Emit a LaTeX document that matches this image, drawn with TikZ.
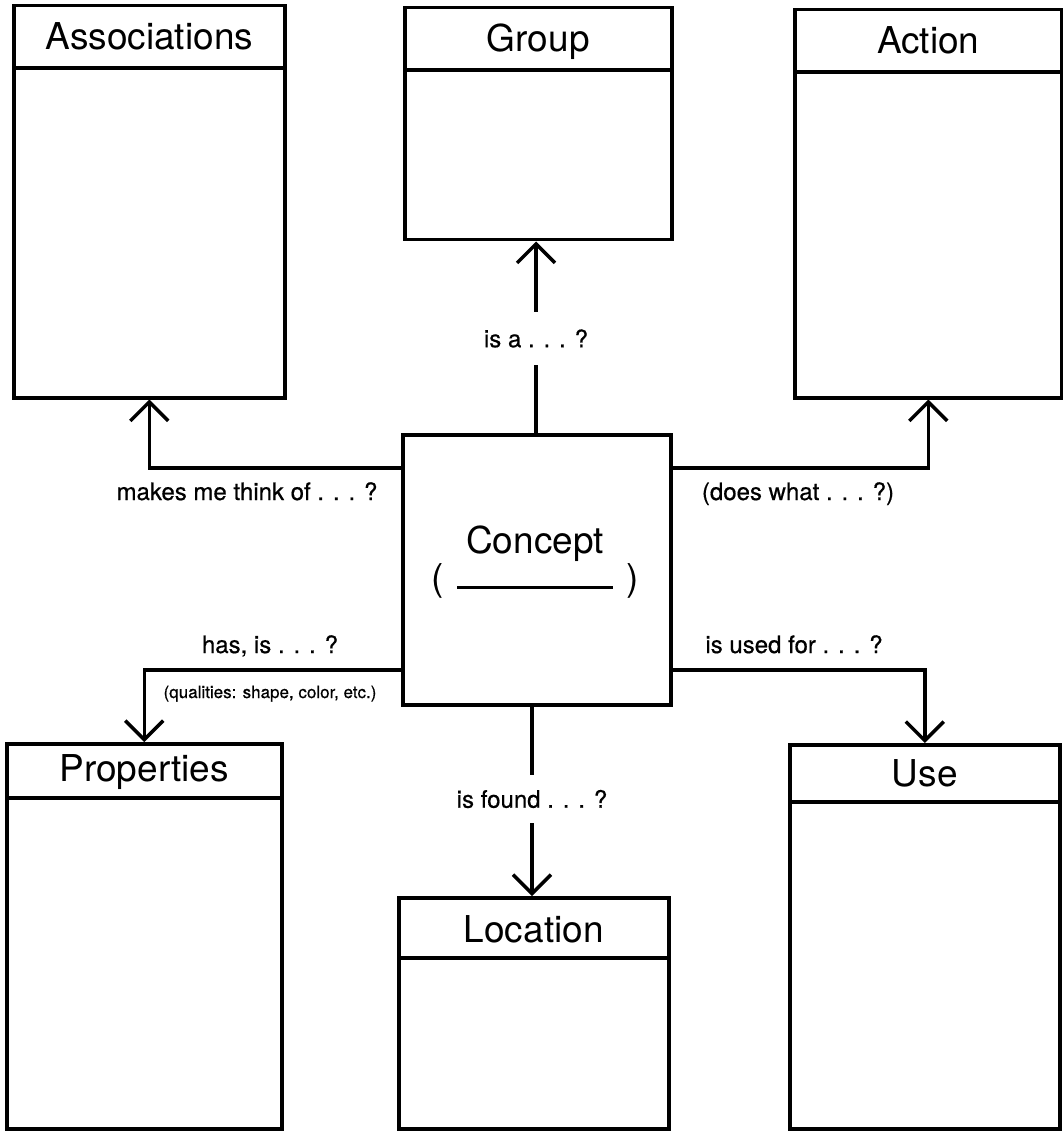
\documentclass[tikz,border=0pt]{standalone}
\usepackage{fontspec}
\setmainfont{TeX Gyre Heros}
\newfontfamily\lblfont[FakeBold=0.6]{TeX Gyre Heros}
\usetikzlibrary{arrows.meta,calc}
\begin{document}
\begin{tikzpicture}[x=1pt,y=-1pt,
  bx/.style={draw, line width=3.5pt, rectangle, inner sep=0pt, anchor=north west},
  ttl/.style={font=\fontsize{37}{41}\selectfont, inner sep=0pt, anchor=base},
  lbl/.style={font=\lblfont\fontsize{24}{28}\selectfont, inner sep=0pt, anchor=base},
  vlbl/.style={font=\lblfont\fontsize{24}{28}\selectfont, inner sep=0pt, anchor=center},
  smalllbl/.style={font=\lblfont\fontsize{17}{20}\selectfont, inner sep=0pt, anchor=base},
  conn/.style={line width=3.5pt},
  arr/.style={conn, -{Straight Barb[length=19pt,width=38pt]}},
  hdr/.style={line width=3.5pt}]
\useasboundingbox (0,0) rectangle (1062,1131);

% boxes
\node[bx, minimum width=271pt, minimum height=392pt] (assoc) at (12,4) {};
\node[bx, minimum width=267pt, minimum height=232pt] (group) at (403,6) {};
\node[bx, minimum width=267pt, minimum height=388pt] (action) at (793,8) {};
\node[bx, minimum width=268pt, minimum height=270pt] (concept) at (401,433) {};
\node[bx, minimum width=275pt, minimum height=385pt] (props) at (5,742) {};
\node[bx, minimum width=270pt, minimum height=231pt] (location) at (397,896) {};
\node[bx, minimum width=270pt, minimum height=384pt] (use) at (788,743) {};

% header lines
\draw[hdr] ($(assoc.north west)+(0,64)$) -- ($(assoc.north east)+(0,64)$);
\draw[hdr] ($(group.north west)+(0,64)$) -- ($(group.north east)+(0,64)$);
\draw[hdr] ($(action.north west)+(0,64)$) -- ($(action.north east)+(0,64)$);
\draw[hdr] ($(props.north west)+(0,56)$) -- ($(props.north east)+(0,56)$);
\draw[hdr] ($(location.north west)+(0,62)$) -- ($(location.north east)+(0,62)$);
\draw[hdr] ($(use.north west)+(0,59)$) -- ($(use.north east)+(0,59)$);

% titles
\node[ttl] (assoct) at ($(assoc.north)+(0,46)$) {Associations};
\node[ttl] (groupt) at ($(group.north)+(0,46)$) {Group};
\node[ttl] (actiont) at ($(action.north)+(0,46)$) {Action};
\node[ttl] (propst) at ($(props.north)+(0,39)$) {Properties};
\node[ttl] (locationt) at ($(location.north)+(0,46)$) {Location};
\node[ttl] (uset) at ($(use.north)+(0,43)$) {Use};
\node[ttl] (conceptt) at (535,553) {Concept};
\node[ttl] (blank) at (535,590) {(\hspace{13pt}\rule[1pt]{156pt}{3pt}\hspace{13pt})};

% labels
\node[lbl] (lassoc) at (247,500) {makes me think of . . . ?};
\node[lbl] (laction) at (798,500) {(does what . . . ?)};
\node[lbl] (lprops) at (270,653) {has, is . . . ?};
\node[smalllbl] (lprops2) at (270,698) {(qualities: shape, color, etc.)};
\node[lbl] (luse) at (794,653) {is used for . . . ?};
\node[vlbl, minimum height=53pt] (lgroup) at (536,338.5) {is a . . . ?};
\node[vlbl, minimum height=48pt] (lloc) at (532,799) {is found . . . ?};

% connectors
\draw[arr] ([yshift=102pt]concept.west) -| (assoc.south);
\draw[arr] ([yshift=102pt]concept.east) -| (action.south);
\draw[arr] ([yshift=-100pt]concept.west) -| (props.north);
\draw[arr] ([yshift=-100pt]concept.east) -| (use.north);
\draw[conn] (lgroup.south |- concept.north) -- (lgroup.south);
\draw[arr] (lgroup.north) -- (lgroup.north |- group.south);
\draw[conn] (lloc.north |- concept.south) -- (lloc.north);
\draw[arr] (lloc.south) -- (lloc.south |- location.north);
\end{tikzpicture}
\end{document}
